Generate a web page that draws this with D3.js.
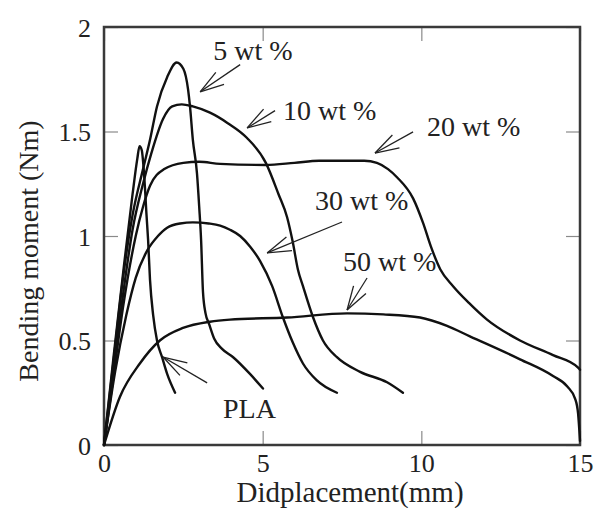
<!DOCTYPE html>
<html><head><meta charset="utf-8">
<script src="https://cdn.jsdelivr.net/npm/d3@7/dist/d3.min.js"></script>
<style>body{margin:0;background:#fff}svg{display:block}text{font-family:"Liberation Serif","Times New Roman",serif;fill:#222}</style>
</head><body>
<svg id="c" width="595" height="508"></svg>
<script>
const xTicks = [0, 5, 10, 15];
const xTickLabels = ["0", "5", "10", "15"];
const yTicks = [0, 0.5, 1, 1.5, 2];
const yTickLabels = ["0", "0.5", "1", "1.5", "2"];
const xTitle = "Didplacement(mm)";
const yTitle = "Bending moment (Nm)";

const seriesNames = ["PLA", "5 wt %", "10 wt %", "20 wt %", "30 wt %", "50 wt %"];
const pla = [[0,0],[0.3,0.42],[0.6,0.82],[0.9,1.2],[1.05,1.37],[1.12,1.43],[1.19,1.41],[1.27,1.28],[1.34,1.1],[1.39,0.98],[1.45,0.79],[1.55,0.62],[1.67,0.50],[1.83,0.42],[1.99,0.34],[2.24,0.25]];
const wt5 = [[0,0],[0.3,0.4],[0.6,0.8],[0.9,1.1],[1.23,1.32],[1.45,1.46],[1.67,1.62],[1.99,1.76],[2.29,1.83],[2.5,1.8],[2.65,1.70],[2.71,1.62],[2.8,1.46],[2.93,1.30],[3.0,1.14],[3.06,0.98],[3.12,0.73],[3.2,0.63],[3.31,0.58],[3.47,0.51],[3.72,0.46],[4.07,0.42],[4.6,0.34],[5.01,0.27]];
const wt10 = [[0,0],[0.3,0.36],[0.6,0.72],[0.9,1.03],[1.23,1.25],[1.5,1.40],[1.86,1.56],[2.15,1.62],[2.45,1.63],[2.8,1.62],[3.34,1.59],[3.9,1.54],[4.5,1.47],[5.1,1.35],[5.5,1.2],[5.77,1.09],[5.95,0.97],[6.11,0.84],[6.27,0.76],[6.59,0.61],[6.9,0.50],[7.34,0.42],[8.07,0.35],[8.92,0.30],[9.42,0.25]];
const wt20 = [[0,0],[0.3,0.33],[0.6,0.66],[1.0,1.0],[1.23,1.14],[1.45,1.24],[1.9,1.32],[2.5,1.35],[3.0,1.355],[3.66,1.345],[5.1,1.34],[6.0,1.35],[6.78,1.36],[7.5,1.36],[8.2,1.36],[8.6,1.35],[8.95,1.32],[9.24,1.28],[9.74,1.18],[10.06,1.06],[10.3,0.95],[10.6,0.84],[11.0,0.76],[11.5,0.68],[12.07,0.60],[13.11,0.50],[14.15,0.43],[14.94,0.37],[15,0.36]];
const wt30 = [[0,0],[0.35,0.35],[0.7,0.62],[1.0,0.8],[1.36,0.93],[1.7,1.0],[1.99,1.04],[2.4,1.06],[2.8,1.065],[3.3,1.06],[3.66,1.05],[3.97,1.03],[4.29,1.0],[4.6,0.95],[4.92,0.88],[5.3,0.76],[5.64,0.61],[5.95,0.49],[6.27,0.39],[6.7,0.31],[7.34,0.25]];
const wt50 = [[0,0],[0.5,0.23],[1.13,0.39],[1.76,0.50],[2.49,0.56],[3.34,0.59],[3.97,0.60],[5.77,0.61],[7.66,0.63],[8.8,0.625],[9.96,0.61],[10.81,0.57],[11.53,0.52],[13.11,0.41],[14.15,0.33],[14.6,0.28],[14.85,0.22],[14.94,0.15],[15,0.02]];
const series = [pla, wt5, wt10, wt20, wt30, wt50];

// annotation: label, text anchor (x,y), arrow tail (x,y), arrow tip (x,y) in data units
const annLabels = ["5 wt %", "10 wt %", "20 wt %", "30 wt %", "50 wt %", "PLA"];
const annText = [[3.44,1.84],[5.64,1.555],[10.18,1.478],[6.65,1.124],[7.53,0.833],[3.75,0.129]];
const annTail = [[4.29,1.82],[5.39,1.60],[9.74,1.498],[7.50,1.067],[8.29,0.799],[3.25,0.297]];
const annTip  = [[3.03,1.69],[4.51,1.517],[8.54,1.397],[5.14,0.919],[7.66,0.646],[1.86,0.421]];

const W = 595, H = 508;
const m = {l:104, t:27, r:15, b:63};
const svg = d3.select("#c");
const x = d3.scaleLinear().domain([0,15]).range([m.l, W-m.r]);
const y = d3.scaleLinear().domain([0,2]).range([H-m.b, m.t]);
const TL = 14;

// inward ticks on all sides
const gx = svg.append("g").attr("transform",`translate(0,${H-m.b})`)
  .call(d3.axisBottom(x).tickValues(xTicks).tickFormat((d,i)=>xTickLabels[i]).tickSizeInner(-TL).tickSizeOuter(0).tickPadding(9));
const gxt = svg.append("g").attr("transform",`translate(0,${m.t})`)
  .call(d3.axisTop(x).tickValues(xTicks).tickFormat("").tickSizeInner(-TL).tickSizeOuter(0));
const gy = svg.append("g").attr("transform",`translate(${m.l},0)`)
  .call(d3.axisLeft(y).tickValues(yTicks).tickFormat((d,i)=>yTickLabels[i]).tickSizeInner(-TL).tickSizeOuter(0).tickPadding(13));
const gyr = svg.append("g").attr("transform",`translate(${W-m.r},0)`)
  .call(d3.axisRight(y).tickValues(yTicks).tickFormat("").tickSizeInner(-TL).tickSizeOuter(0));
[gx,gxt,gy,gyr].forEach(g=>{
  g.select(".domain").remove();
  g.selectAll(".tick line").attr("stroke","#8a8a8a").attr("stroke-width",1.2);
  g.selectAll(".tick text").attr("font-family","Liberation Serif, serif").attr("font-size",26).attr("fill","#222");
});
gx.selectAll(".tick text").attr("dy","0.71em");
gy.selectAll(".tick text").attr("dy","0.35em");

// frame
svg.append("rect").attr("x",x(0)).attr("y",y(2)).attr("width",x(15)-x(0)).attr("height",y(0)-y(2))
  .attr("fill","none").attr("stroke","#3a3a3a").attr("stroke-width",2.5);

// curves
const line = d3.line().x(d=>x(d[0])).y(d=>y(d[1])).curve(d3.curveMonotoneX);
svg.append("g").selectAll("path").data(series).join("path")
  .attr("d", line).attr("fill","none").attr("stroke","#111").attr("stroke-width",2.4)
  .attr("stroke-linejoin","round").attr("stroke-linecap","round");

// annotations
const ga = svg.append("g");
annLabels.forEach((lab,i)=>{
  ga.append("text").attr("x",x(annText[i][0])).attr("y",y(annText[i][1]))
    .attr("font-size",28).text(lab);
  const x1=x(annTail[i][0]), y1=y(annTail[i][1]), x2=x(annTip[i][0]), y2=y(annTip[i][1]);
  ga.append("line").attr("x1",x1).attr("y1",y1).attr("x2",x2).attr("y2",y2)
    .attr("stroke","#222").attr("stroke-width",1.3);
  const ang = Math.atan2(y1-y2, x1-x2), L=25, a=17*Math.PI/180;
  [ang-a, ang+a].forEach(t=>{
    ga.append("line").attr("x1",x2).attr("y1",y2).attr("x2",x2+L*Math.cos(t)).attr("y2",y2+L*Math.sin(t))
      .attr("stroke","#222").attr("stroke-width",1.3);
  });
});

// axis titles
svg.append("text").attr("x",350).attr("y",H-6).attr("text-anchor","middle")
  .attr("font-size",29).text(xTitle);
svg.append("text").attr("transform",`translate(38,${(y(0)+y(2))/2+15}) rotate(-90)`).attr("text-anchor","middle")
  .attr("font-size",28).text(yTitle);
</script>
</body></html>
